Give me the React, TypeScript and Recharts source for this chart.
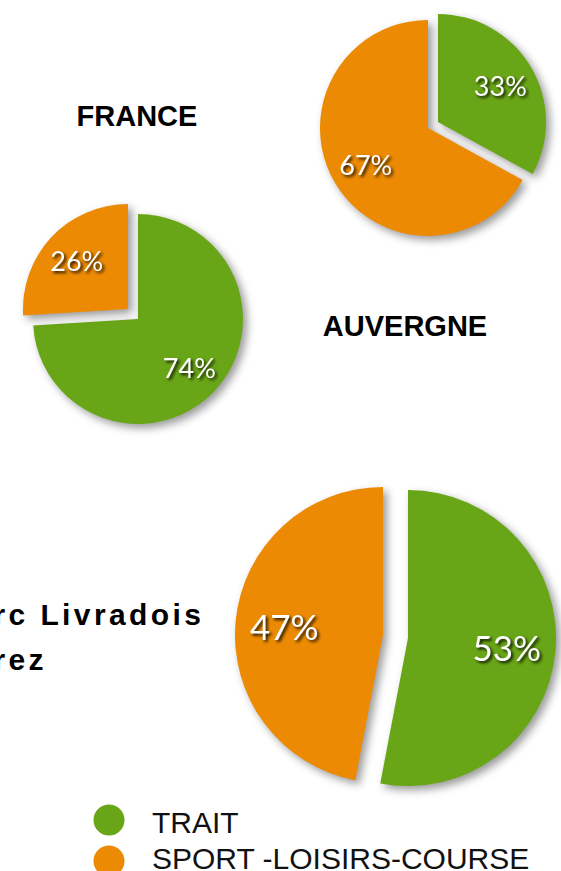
import { PieChart, Pie, Cell } from "recharts";

const categories = ["TRAIT", "SPORT -LOISIRS-COURSE"];
const colors = ["#69a617", "#ec8a04"];

const regions = ["FRANCE", "AUVERGNE", "Parc Livradois Forez"];
const franceValues = [33, 67];
const auvergneValues = [74, 26];
const livradoisValues = [53, 47];

const W = 561;
const H = 871;
const RADIAN = Math.PI / 180;

const toData = (values: number[]) =>
  categories.map((name, i) => ({ name, value: values[i] }));

// each slice is drawn from its own centre so it looks pulled out
const pies = [
  { values: franceValues, centers: [[438, 122], [428, 128]], r: 108, font: 27 },
  { values: auvergneValues, centers: [[138, 319], [128, 309]], r: 105, font: 27 },
  { values: livradoisValues, centers: [[408, 638], [383, 635]], r: 148, font: 35 },
];

const pieShadow = "drop-shadow(4px 4px 4px rgba(0,0,0,0.4))";
const textShadow = "drop-shadow(2px 2px 1.5px rgba(0,0,0,0.85))";

function makeLabel(visible: number, fontSize: number) {
  return (props: any) => {
    if (props.index !== visible) return null;
    const r = props.outerRadius * 0.67;
    const x = props.cx + r * Math.cos(-props.midAngle * RADIAN);
    const y = props.cy + r * Math.sin(-props.midAngle * RADIAN);
    return (
      <text
        x={x}
        y={y}
        fill="#fff"
        textAnchor="middle"
        dominantBaseline="central"
        fontSize={fontSize}
        fontFamily="Lato, sans-serif"
        style={{ filter: textShadow }}
      >
        {props.value}%
      </text>
    );
  };
}

export default function App() {
  const series: any[] = [];
  pies.forEach((p, pi) => {
    const data = toData(p.values);
    p.centers.forEach((c, si) => {
      series.push(
        <Pie
          key={`${pi}-${si}`}
          data={data}
          dataKey="value"
          nameKey="name"
          cx={c[0]}
          cy={c[1]}
          outerRadius={p.r}
          startAngle={90}
          endAngle={-270}
          stroke="none"
          label={makeLabel(si, p.font)}
          labelLine={false}
          isAnimationActive={false}
        >
          {data.map((d, i) => (
            <Cell
              key={d.name}
              fill={i === si ? colors[i] : "none"}
              style={i === si ? { filter: pieShadow } : undefined}
            />
          ))}
        </Pie>
      );
    });
  });

  const titleFont = "'Liberation Sans', Arial, sans-serif";
  const words = regions[2].split(" ");

  return (
    <div
      style={{
        position: "absolute",
        left: 0,
        top: 0,
        width: W,
        height: H,
        overflow: "hidden",
        background: "#fff",
      }}
    >
      <svg
        width={W}
        height={H}
        style={{ position: "absolute", left: 0, top: 0 }}
        fontFamily={titleFont}
        fontWeight="bold"
        fontSize={29}
      >
        <text x={137} y={126} textAnchor="middle">{regions[0]}</text>
        <text x={405} y={336} textAnchor="middle">{regions[1]}</text>
        <text x={-50} y={625} fontSize={30} letterSpacing={3.4}>
          {words.slice(0, 2).join(" ")}
        </text>
        <text x={-50} y={670} fontSize={30} letterSpacing={3.4}>
          {words[2]}
        </text>
      </svg>
      <div style={{ position: "absolute", left: 0, top: 0 }}>
        <PieChart width={W} height={H} margin={{ top: 0, right: 0, bottom: 0, left: 0 }}>
          {series}
        </PieChart>
      </div>
      <svg
        width={W}
        height={H}
        style={{ position: "absolute", left: 0, top: 0, pointerEvents: "none" }}
        fontFamily={titleFont}
        fontSize={30}
      >
        {categories.map((name, i) => (
          <g key={name}>
            <circle cx={109} cy={820 + i * 41} r={15.5} fill={colors[i]} />
            <text x={152} y={833 + i * 36} fill="#111">{name}</text>
          </g>
        ))}
      </svg>
    </div>
  );
}
